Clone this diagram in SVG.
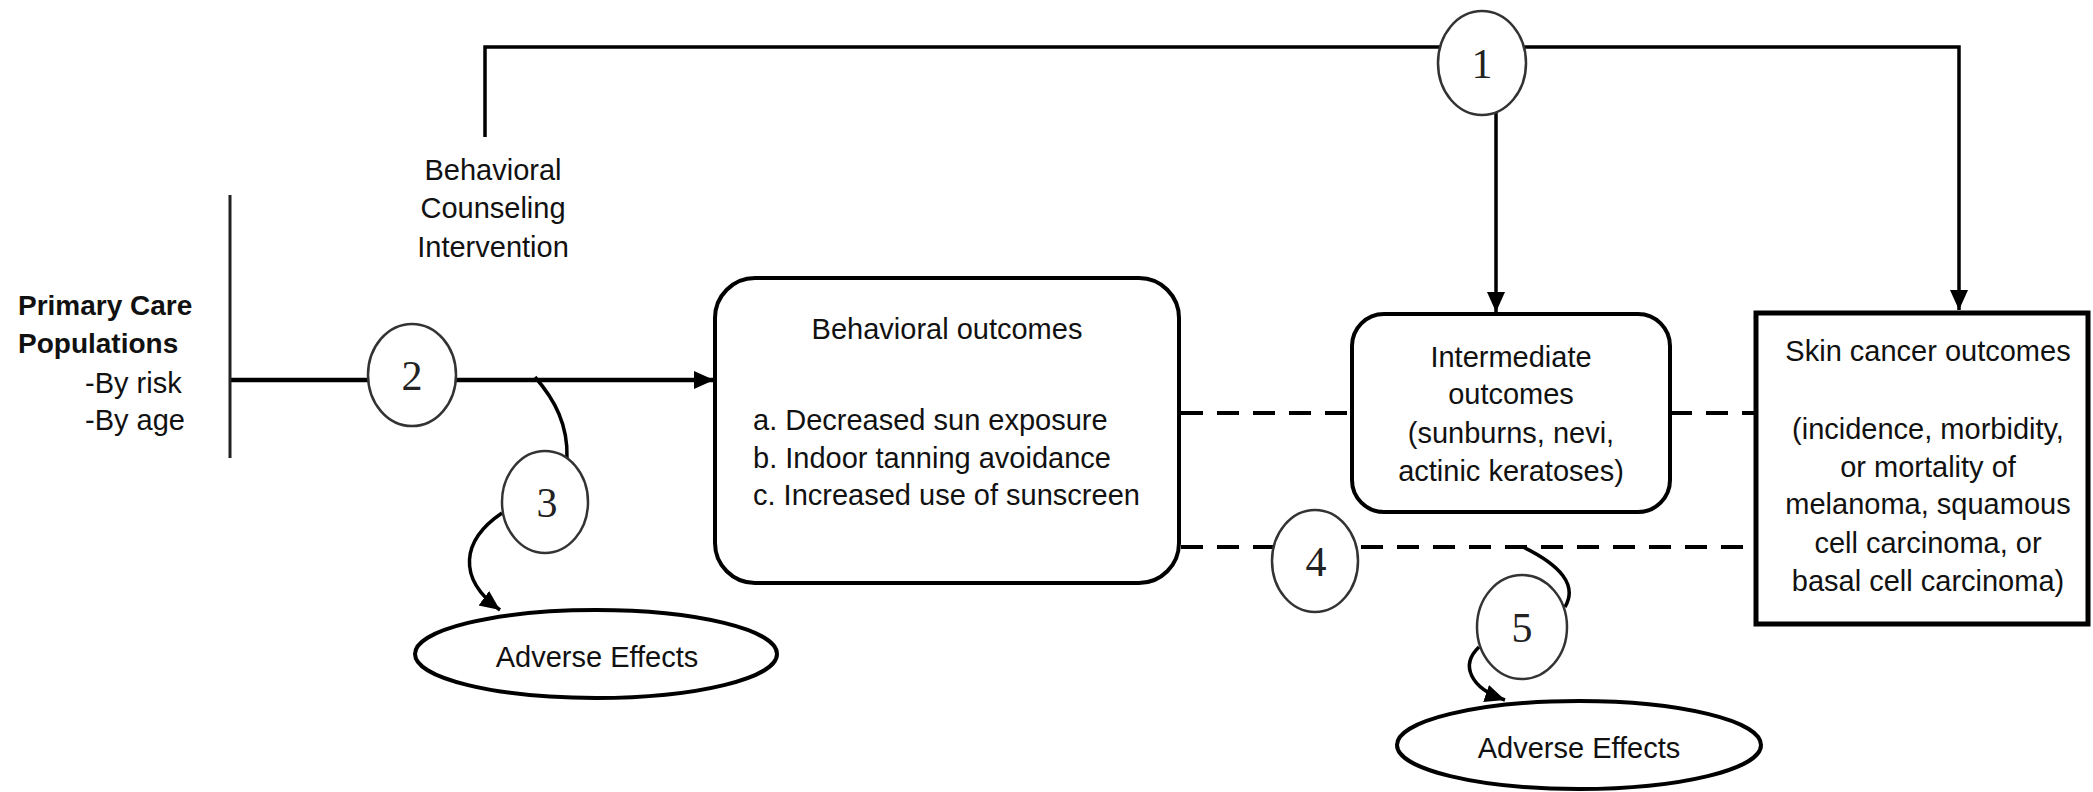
<svg xmlns="http://www.w3.org/2000/svg" width="2093" height="792" viewBox="0 0 2093 792">
<style>
  .t { font-family: "Liberation Sans", Arial, sans-serif; font-size: 29px; fill: #111; }
  .tb { font-family: "Liberation Sans", Arial, sans-serif; font-size: 28px; font-weight: bold; fill: #111; }
  .num { font-family: "Liberation Serif", "Times New Roman", serif; font-size: 42px; fill: #222; text-anchor: middle; }
  .box { fill: #fff; stroke: #000; stroke-width: 4; }
  .kq { fill: #fff; stroke: #333; stroke-width: 2.5; }
  .ell { fill: #fff; stroke: #000; stroke-width: 4; }
  .ln { fill: none; stroke: #000; stroke-width: 3.5; }
  .main { fill: none; stroke: #000; stroke-width: 4.5; }
  .dash { fill: none; stroke: #000; stroke-width: 4; stroke-dasharray: 22 14; }
  .c { text-anchor: middle; }
</style>
<defs>
  <marker id="ah" markerUnits="userSpaceOnUse" markerWidth="22" markerHeight="22" viewBox="0 0 22 22" refX="20" refY="11" orient="auto">
    <path d="M0,2 L20,11 L0,20 Z" fill="#000"/>
  </marker>
</defs>

<g id="connectors">
  <!-- KQ1 overarching path -->
  <polyline class="ln" points="485,137 485,47 1959,47 1959,310" marker-end="url(#ah)"/>
  <line class="ln" x1="1496" y1="112" x2="1496" y2="312" marker-end="url(#ah)"/>
  <!-- main population -> behavioral -->
  <line class="main" x1="230" y1="380" x2="714" y2="380" marker-end="url(#ah)"/>
  <!-- KQ3 harms branch -->
  <path class="ln" d="M535,377 C555,400 568,425 567,458"/>
  <path class="ln" d="M502,513 C462,540 456,578 500,610" marker-end="url(#ah)"/>
  <!-- dashed associations -->
  <line class="dash" x1="1181" y1="413" x2="1352" y2="413"/>
  <line class="dash" x1="1670" y1="413" x2="1755" y2="413"/>
  <line class="dash" x1="1181" y1="547" x2="1755" y2="547"/>
  <!-- KQ5 harms branch -->
  <path class="ln" d="M1523,547 C1560,565 1578,585 1565,607"/>
  <path class="ln" d="M1479,647 C1460,665 1470,688 1505,700" marker-end="url(#ah)"/>
</g>

<g id="populations">
  <line x1="230" y1="195" x2="230" y2="458" stroke="#222" stroke-width="3"/>
  <text class="tb" x="18" y="315">Primary Care</text>
  <text class="tb" x="18" y="353">Populations</text>
  <text class="t" x="85" y="393">-By risk</text>
  <text class="t" x="85" y="430">-By age</text>
</g>

<g id="intervention">
  <text class="t c" x="493" y="180">Behavioral</text>
  <text class="t c" x="493" y="218">Counseling</text>
  <text class="t c" x="493" y="257">Intervention</text>
</g>

<g id="behavioral-outcomes">
  <rect class="box" x="715" y="278" width="464" height="305" rx="40" ry="40"/>
  <text class="t c" x="947" y="339">Behavioral outcomes</text>
  <text class="t" x="753" y="430">a. Decreased sun exposure</text>
  <text class="t" x="753" y="468">b. Indoor tanning avoidance</text>
  <text class="t" x="753" y="505">c. Increased use of sunscreen</text>
</g>

<g id="intermediate-outcomes">
  <rect class="box" x="1352" y="314" width="318" height="198" rx="32" ry="32"/>
  <text class="t c" x="1511" y="367">Intermediate</text>
  <text class="t c" x="1511" y="404">outcomes</text>
  <text class="t c" x="1511" y="443">(sunburns, nevi,</text>
  <text class="t c" x="1511" y="481">actinic keratoses)</text>
</g>

<g id="skin-cancer-outcomes">
  <rect x="1756" y="313" width="332" height="311" fill="#fff" stroke="#000" stroke-width="5"/>
  <text class="t c" x="1928" y="361">Skin cancer outcomes</text>
  <text class="t c" x="1928" y="439">(incidence, morbidity,</text>
  <text class="t c" x="1928" y="477">or mortality of</text>
  <text class="t c" x="1928" y="514">melanoma, squamous</text>
  <text class="t c" x="1928" y="553">cell carcinoma, or</text>
  <text class="t c" x="1928" y="591">basal cell carcinoma)</text>
</g>

<g id="adverse-effects-1">
  <ellipse class="ell" cx="596" cy="654" rx="181" ry="44"/>
  <text class="t c" x="597" y="667">Adverse Effects</text>
</g>

<g id="adverse-effects-2">
  <ellipse class="ell" cx="1579" cy="745" rx="182" ry="44"/>
  <text class="t c" x="1579" y="758">Adverse Effects</text>
</g>

<g id="kq1">
  <ellipse class="kq" cx="1482" cy="63" rx="44" ry="52"/>
  <text class="num" x="1482" y="78">1</text>
</g>
<g id="kq2">
  <ellipse class="kq" cx="412" cy="375" rx="44" ry="51"/>
  <text class="num" x="412" y="390">2</text>
</g>
<g id="kq3">
  <ellipse class="kq" cx="545" cy="502" rx="43" ry="51"/>
  <text class="num" x="547" y="517">3</text>
</g>
<g id="kq4">
  <ellipse class="kq" cx="1315" cy="561" rx="43" ry="51"/>
  <text class="num" x="1316" y="576">4</text>
</g>
<g id="kq5">
  <ellipse class="kq" cx="1522" cy="627" rx="45" ry="52"/>
  <text class="num" x="1522" y="642">5</text>
</g>
</svg>
